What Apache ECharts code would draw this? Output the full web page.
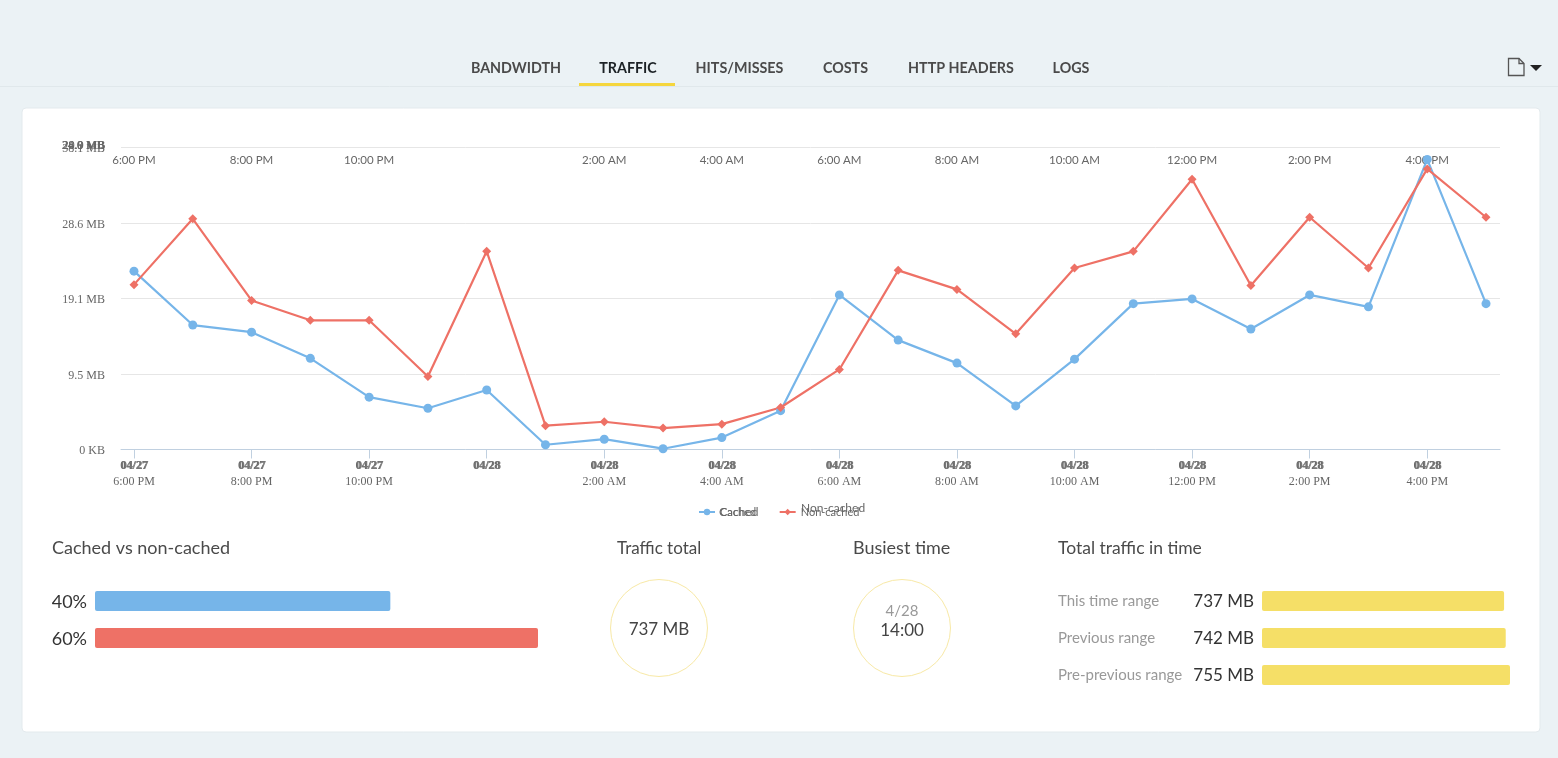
<!DOCTYPE html>
<html>
<head>
<meta charset="utf-8">
<title>Traffic</title>
<script src="https://cdn.jsdelivr.net/npm/echarts@6/dist/echarts.min.js"></script>
<style>
  html, body { margin: 0; padding: 0; background: #ebf2f5; }
  #chart { width: 1558px; height: 758px; }
</style>
</head>
<body>
<div id="chart"></div>
<script>
// Hourly traffic, 04/27 18:00 to 04/28 17:00, in MB
const dateLabels = ['04/27','04/27','04/27','04/27','04/27','04/27','04/28','04/28','04/28','04/28','04/28','04/28','04/28','04/28','04/28','04/28','04/28','04/28','04/28','04/28','04/28','04/28','04/28','04/28'];
const timeLabels = ['6:00 PM','','8:00 PM','','10:00 PM','','','','2:00 AM','','4:00 AM','','6:00 AM','','8:00 AM','','10:00 AM','','12:00 PM','','2:00 PM','','4:00 PM',''];
const cachedMB = [22.5,15.7,14.8,11.5,6.6,5.2,7.5,0.6,1.3,0.1,1.5,4.9,19.5,13.8,10.9,5.5,11.4,18.4,19.0,15.2,19.5,18.0,36.6,18.4];
const nonCachedMB = [20.8,29.1,18.8,16.3,16.3,9.2,25.0,3.0,3.5,2.7,3.2,5.3,10.1,22.6,20.2,14.6,22.9,25.0,34.1,20.7,29.3,22.9,35.4,29.3];
const yTickLabels = ['0 KB','9.5 MB','19.1 MB','28.6 MB','38.1 MB'];
const yTickStep = 9.525;

// Summary panels
const shareLabels = ['40%','60%'];
const shareValues = [40,60];
const rangeNames = ['This time range','Previous range','Pre-previous range'];
const rangeTotals = [737,742,755];
const tabNames = ['BANDWIDTH','TRAFFIC','HITS/MISSES','COSTS','HTTP HEADERS','LOGS'];
const tabCentres = [516,628,739.5,845.5,961,1071];

const SANS = 'Lato, "Open Sans", sans-serif';
const SERIF = '"Liberation Serif", serif';
const BLUE = '#76b5e9', RED = '#ee7166', YELLOW = '#f5df67';
const tickIndices = dateLabels.map((_, i) => i).filter(i => i % 2 === 0);

const label = (text, x, y, font, fill, align) => ({
  type: 'text', z: 5,
  style: { text, x, y, font, fill, textAlign: align || 'left', textVerticalAlign: 'middle' }
});

const chrome = [
  { type: 'line', z: -20, shape: { x1: 0, y1: 86.5, x2: 1558, y2: 86.5 }, style: { stroke: '#e0e8eb', lineWidth: 1 } },
  { type: 'rect', z: -20, shape: { x: 579, y: 83, width: 96, height: 3 }, style: { fill: '#f5d63d' } },
  { type: 'rect', z: -20, shape: { x: 22, y: 108, width: 1518, height: 624, r: 4 }, style: { fill: '#ffffff', stroke: '#e3eaed', lineWidth: 1 } },
  // document icon and dropdown caret
  { type: 'polygon', z: 5, shape: { points: [[1508.5, 58.5], [1519, 58.5], [1524, 63.5], [1524, 75.5], [1508.5, 75.5]] }, style: { fill: 'none', stroke: '#555', lineWidth: 1.3 } },
  { type: 'polyline', z: 5, shape: { points: [[1519, 58.5], [1519, 63.5], [1524, 63.5]] }, style: { fill: 'none', stroke: '#555', lineWidth: 1.3 } },
  { type: 'polygon', z: 5, shape: { points: [[1530, 65], [1542, 65], [1536, 71]] }, style: { fill: '#222' } },
  // circled figures
  { type: 'circle', z: 5, shape: { cx: 659, cy: 628, r: 48.5 }, style: { fill: 'none', stroke: '#f8e9a6', lineWidth: 1 } },
  { type: 'circle', z: 5, shape: { cx: 902, cy: 628, r: 48.5 }, style: { fill: 'none', stroke: '#f8e9a6', lineWidth: 1 } },
  label('Cached vs non-cached', 52, 548, '18px ' + SANS, '#4a4a4a'),
  label('Traffic total', 617, 549, '17px ' + SANS, '#4a4a4a'),
  label('Busiest time', 853, 548, '18px ' + SANS, '#4a4a4a'),
  label('Total traffic in time', 1058, 548, '17.5px ' + SANS, '#4a4a4a'),
  label('737 MB', 659, 630, '17px ' + SANS, '#444', 'center'),
  label('4/28', 902, 611, '15px ' + SANS, '#999', 'center'),
  label('14:00', 902, 631, '17px ' + SANS, '#444', 'center'),
  // stacked labels at the top of the value axis
  label('28.0 MB', 105, 145.5, '12px ' + SERIF, '#666', 'right'),
  label('20.9 MB', 105.5, 145.5, '12px ' + SERIF, '#666', 'right'),
  label('24.0 MB', 104.5, 145.5, '12px ' + SERIF, '#666', 'right'),
  // second copy of the legend text
  label('Cached', 719, 512, '12px ' + SANS, '#666'),
  label('Non-cached', 801, 508, '12px ' + SANS, '#666')
];
tabNames.forEach((name, i) => {
  chrome.push(label(name, tabCentres[i], 68, 'bold 14.3px ' + SANS, i === 1 ? '#1c2226' : '#4a4a4a', 'center'));
});

const option = {
  animation: false,
  backgroundColor: '#ebf2f5',
  graphic: { elements: chrome },
  legend: {
    left: 693, top: 501.5, itemWidth: 16, itemHeight: 8, itemGap: 22.5,
    textStyle: { fontFamily: SANS, fontSize: 11, color: '#666' },
    data: ['Cached', 'Non-cached']
  },
  grid: [
    { left: 121, top: 147.5, width: 1379, height: 302 },
    { left: 95, top: 582.5, width: 443, height: 74 },
    { left: 1262, top: 582.5, width: 248, height: 111 }
  ],
  xAxis: [
    {
      type: 'value', gridIndex: 0, min: -0.221, max: 23.238, splitLine: { show: false },
      axisLine: { show: true, onZero: false, lineStyle: { color: '#c0d0e0' } },
      axisTick: { show: true, length: 9, customValues: tickIndices, lineStyle: { color: '#c0d0e0' } },
      axisLabel: {
        customValues: tickIndices, margin: 9, hideOverlap: false,
        formatter: v => '{d|' + dateLabels[v] + '}\n{t|' + timeLabels[v] + '}',
        rich: {
          d: { fontFamily: SERIF, fontWeight: 'bold', fontSize: 12, color: '#666', lineHeight: 15 },
          t: { fontFamily: SERIF, fontSize: 12, color: '#666', lineHeight: 16 }
        }
      }
    },
    {
      type: 'value', gridIndex: 0, position: 'top', min: -0.221, max: 23.238, splitLine: { show: false },
      axisLine: { show: false }, axisTick: { show: false },
      axisLabel: {
        inside: true, margin: 7, customValues: tickIndices, fontFamily: SANS, fontSize: 11.5, color: '#666',
        formatter: v => timeLabels[v]
      }
    },
    { type: 'value', gridIndex: 1, min: 0, max: 60, show: false },
    { type: 'value', gridIndex: 2, min: 0, max: 755, show: false },
    // date row drawn a second time, a hair to the right
    {
      type: 'value', gridIndex: 0, position: 'bottom', min: -0.221, max: 23.238, splitLine: { show: false },
      axisLine: { show: false }, axisTick: { show: false },
      axisLabel: {
        customValues: tickIndices, margin: 10, align: 'center', padding: [0, 0, 0, 1.5],
        fontFamily: SERIF, fontWeight: 'bold', fontSize: 12, color: '#777',
        formatter: v => dateLabels[v]
      }
    }
  ],
  yAxis: [
    {
      type: 'value', gridIndex: 0, min: 0, max: yTickStep * 4, interval: yTickStep,
      axisLine: { show: false }, axisTick: { show: false },
      splitLine: { lineStyle: { color: '#e6e6e6' } },
      axisLabel: {
        margin: 16,
        formatter: v => '{a|' + yTickLabels[Math.round(v / yTickStep)] + '}',
        rich: { a: { padding: [3, 0, 0, 0], fontFamily: SERIF, fontSize: 12, color: '#666' } }
      }
    },
    {
      type: 'category', gridIndex: 1, inverse: true, data: shareLabels,
      axisLine: { show: false }, axisTick: { show: false },
      axisLabel: {
        margin: 8, formatter: v => '{a|' + v + '}',
        rich: { a: { padding: [2, 0, 0, 0], fontFamily: SANS, fontSize: 18, color: '#333' } }
      }
    },
    {
      type: 'category', gridIndex: 2, inverse: true, data: rangeTotals.map(v => v + ' MB'),
      axisLine: { show: false }, axisTick: { show: false },
      axisLabel: {
        margin: 8, formatter: v => '{a|' + v + '}',
        rich: { a: { padding: [2, 0, 0, 0], fontFamily: SANS, fontSize: 17, color: '#333' } }
      }
    },
    {
      type: 'category', gridIndex: 2, inverse: true, position: 'left', data: rangeNames,
      axisLine: { show: false }, axisTick: { show: false },
      axisLabel: { margin: 204, align: 'left', fontFamily: SANS, fontSize: 15, color: '#999' }
    }
  ],
  series: [
    {
      name: 'Cached', type: 'line', xAxisIndex: 0, yAxisIndex: 0,
      data: cachedMB.map((v, i) => [i, v]),
      symbol: 'circle', symbolSize: 9, showAllSymbols: true,
      lineStyle: { color: BLUE, width: 2.2 }, itemStyle: { color: BLUE }
    },
    {
      name: 'Non-cached', type: 'line', xAxisIndex: 0, yAxisIndex: 0,
      data: nonCachedMB.map((v, i) => [i, v]),
      symbol: 'diamond', symbolSize: 9, showAllSymbols: true,
      lineStyle: { color: RED, width: 2.2 }, itemStyle: { color: RED }
    },
    {
      type: 'bar', xAxisIndex: 2, yAxisIndex: 1, barWidth: 20, silent: true,
      data: shareValues.map((v, i) => ({ value: v, itemStyle: { color: i ? RED : BLUE, borderRadius: 2 } }))
    },
    {
      type: 'bar', xAxisIndex: 3, yAxisIndex: 2, barWidth: 20, silent: true,
      data: rangeTotals.map(v => ({ value: v, itemStyle: { color: YELLOW, borderRadius: 2 } }))
    }
  ]
};

echarts.init(document.getElementById('chart'), null, { renderer: 'canvas' }).setOption(option);
</script>
</body>
</html>
